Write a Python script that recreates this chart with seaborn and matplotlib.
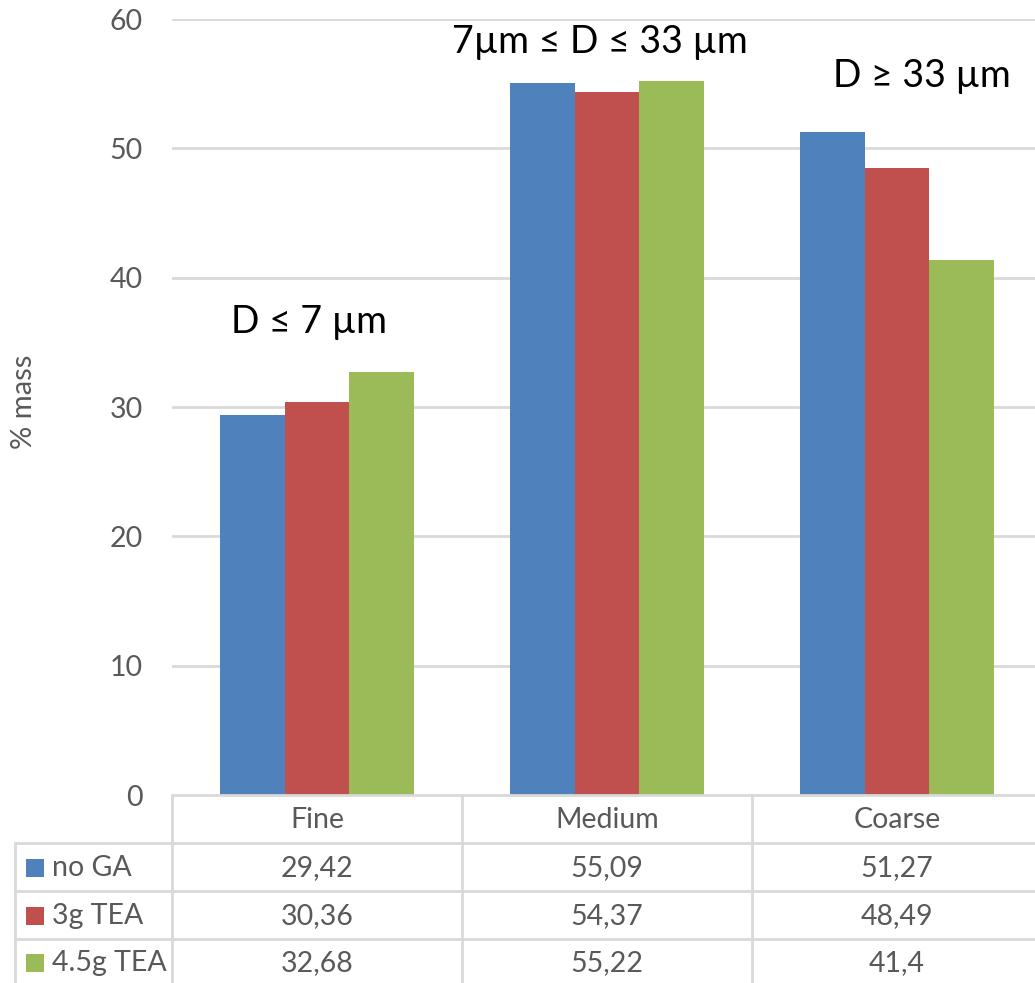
import numpy as np
import pandas as pd
import matplotlib
matplotlib.use("Agg")
import matplotlib.pyplot as plt
import seaborn as sns

# Particle-size fractions and mass share per additive dosage
categories = ["Fine", "Medium", "Coarse"]
series = ["no GA", "3g TEA", "4.5g TEA"]
no_ga = [29.42, 55.09, 51.27]
tea_3g = [30.36, 54.37, 48.49]
tea_45g = [32.68, 55.22, 41.4]
value_labels = [["29,42", "55,09", "51,27"],
                ["30,36", "54,37", "48,49"],
                ["32,68", "55,22", "41,4"]]
range_labels = ["D ≤ 7 µm", "7µm ≤ D ≤ 33 µm", "D ≥ 33 µm"]
y_ticks = [0, 10, 20, 30, 40, 50, 60]

colors = ["#4F81BD", "#C0504D", "#9BBB59"]
grid_c = "#D9D9D9"
text_c = "#595959"

sns.set_theme(style="white")
plt.rcParams["font.family"] = ["Lato", "DejaVu Sans"]

W, H = 1035, 983
fig = plt.figure(figsize=(W / 100, H / 100), dpi=100)

def fx(px):
    return px / W

def fy(py):
    return 1 - py / H

# plot area: 0 at y=795 px, 60 at y=19 px, three 290 px wide category slots
x0, x1 = 172, 172 + 3 * 290
y_top, y_zero = 19, 795
ax = fig.add_axes([fx(x0), fy(y_zero), fx(x1) - fx(x0), fy(y_top) - fy(y_zero)])

df = pd.DataFrame({
    "category": np.repeat(categories, len(series)),
    "series": series * len(categories),
    "value": [v for trio in zip(no_ga, tea_3g, tea_45g) for v in trio],
})
sns.barplot(data=df, x="category", y="value", hue="series", hue_order=series,
            palette=colors, width=0.667, dodge=True, gap=0, saturation=1,
            edgecolor="none", linewidth=0, legend=False, ax=ax, zorder=3)

fs = 20.5
ax.set_xlim(-0.5, 2.5)
ax.set_ylim(0, 60)
ax.set_yticks(y_ticks)
ax.set_yticklabels([str(t) for t in y_ticks], fontsize=fs, color=text_c)
ax.tick_params(axis="y", length=0, pad=21)
ax.set_xticks([])
ax.set_xlabel("")
ax.set_ylabel("")
for s in ax.spines.values():
    s.set_visible(False)
for t in y_ticks[1:]:
    ax.axhline(t, color=grid_c, lw=2, zorder=1)

fig.text(fx(24), fy(402), "% mass", rotation=90, ha="center", va="center",
         fontsize=21, color=text_c)

# range annotations above each group
ann_pos = [(309, 322), (600, 42), (922, 76)]
for lab, (px, py) in zip(range_labels, ann_pos):
    fig.text(fx(px), fy(py), lab, ha="center", va="center", fontsize=27, color="black")

# data table under the axis
row_lines = [795, 843, 891, 939]
col_lines = [172, 462, 752]
lw = 2
fig.add_artist(plt.Line2D([fx(172), fx(W)], [fy(795), fy(795)],
                          transform=fig.transFigure, color=grid_c, lw=lw))
for ry in row_lines[1:]:
    fig.add_artist(plt.Line2D([fx(15), fx(W)], [fy(ry), fy(ry)],
                              transform=fig.transFigure, color=grid_c, lw=lw))
fig.add_artist(plt.Line2D([fx(15), fx(15)], [fy(843), fy(H)],
                          transform=fig.transFigure, color=grid_c, lw=lw))
for cx in col_lines:
    fig.add_artist(plt.Line2D([fx(cx), fx(cx)], [fy(795), fy(H)],
                              transform=fig.transFigure, color=grid_c, lw=lw))

row_centers = [820, 868, 916, 963]
col_centers = [x0 + 145 + 290 * i for i in range(3)]
for cat, cx in zip(categories, col_centers):
    fig.text(fx(cx), fy(row_centers[0]), cat, ha="center", va="center",
             fontsize=fs, color=text_c)
for i, (name, col) in enumerate(zip(series, colors)):
    ry = row_centers[i + 1]
    fig.add_artist(plt.Rectangle((fx(26), fy(ry + 9)), fx(18), fy(0) - fy(18),
                                 transform=fig.transFigure, color=col, lw=0))
    fig.text(fx(52), fy(ry), name, ha="left", va="center", fontsize=fs, color=text_c)
    for j, cx in enumerate(col_centers):
        fig.text(fx(cx), fy(ry), value_labels[i][j], ha="center", va="center",
                 fontsize=fs, color=text_c)

fig.savefig("out.png", dpi=100)
